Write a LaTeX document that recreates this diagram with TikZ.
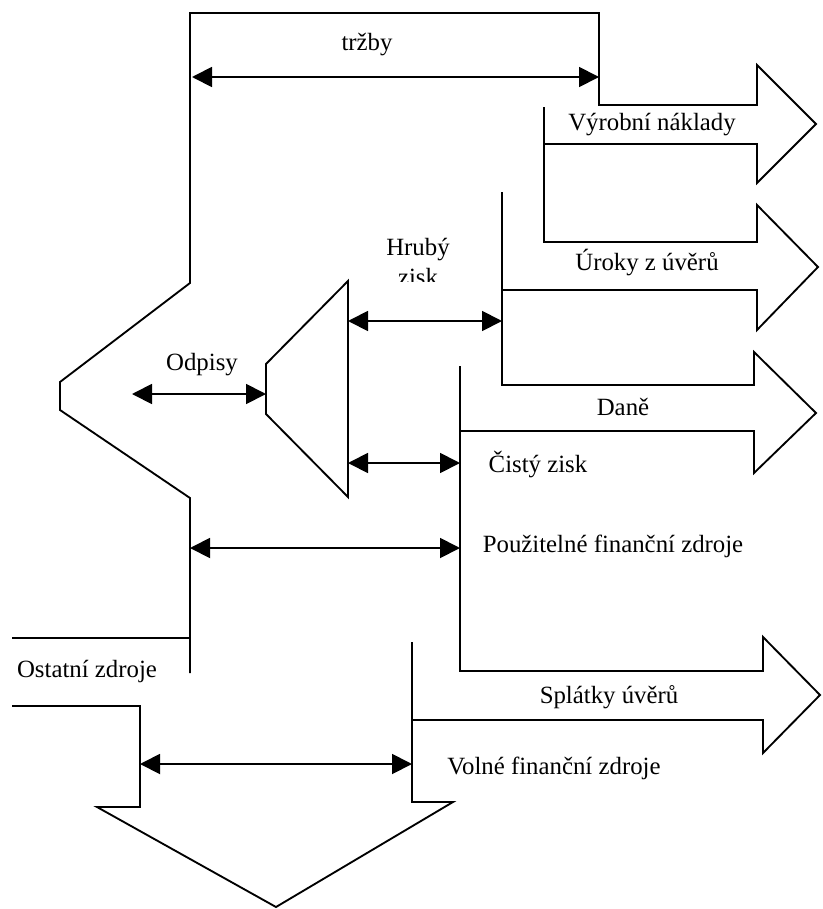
\documentclass[tikz,border=0pt]{standalone}
\usepackage{fontspec}
\setmainfont{Liberation Serif}
\usepackage{tikz}
\usetikzlibrary{arrows.meta}
\tikzset{
  flow/.style  = {line width=0.9pt, line join=miter},
  span/.style  = {line width=0.9pt,
                  {Triangle[length=3.4mm,width=3.4mm]}-{Triangle[length=3.4mm,width=3.4mm]}},
  lab/.style   = {font=\fontsize{12}{14}\selectfont, inner sep=0pt},
}

\begin{document}
\begin{tikzpicture}[x=0.17mm, y=-0.17mm]
  \useasboundingbox (0,0) rectangle (822,909);

  % outer body: revenue block with the depreciation notch
  \draw[flow] (190,673) -- (190,498) -- (60,410) -- (60,382) -- (190,283)
    -- (190,13) -- (599,13) -- (599,105) -- (757,105) -- (757,65)
    -- (816,124) -- (757,183) -- (757,144) -- (544,144);
  \draw[flow] (544,107) -- (544,242) -- (757,242) -- (757,205)
    -- (818,267) -- (757,330) -- (757,290) -- (502,290);
  \draw[flow] (502,192) -- (502,385) -- (754,385) -- (754,352)
    -- (816,413) -- (754,473) -- (754,431) -- (460,431);
  \draw[flow] (460,366) -- (460,671) -- (763,671) -- (763,637)
    -- (820,695) -- (763,753) -- (763,720) -- (412,720);
  \draw[flow] (412,642) -- (412,802) -- (453,802) -- (276,907)
    -- (97,807) -- (140,807) -- (140,706) -- (12,706);
  \draw[flow] (12,638) -- (190,638);

  % depreciation trapezoid
  \draw[flow] (348,281) -- (266,364) -- (266,414) -- (348,497) -- cycle;

  % end points of the spans
  \coordinate (trzA) at (192,77);  \coordinate (trzB) at (599,77);
  \coordinate (hrA)  at (348,321); \coordinate (hrB)  at (502,321);
  \coordinate (odA)  at (132,394); \coordinate (odB)  at (266,394);
  \coordinate (ciA)  at (348,463); \coordinate (ciB)  at (460,463);
  \coordinate (poA)  at (190,548); \coordinate (poB)  at (460,548);
  \coordinate (voA)  at (140,764); \coordinate (voB)  at (412,764);

  \draw[span] (trzA) -- (trzB);
  \draw[span] (hrA) -- (hrB);
  \draw[span] (odA) -- (odB);
  \draw[span] (ciA) -- (ciB);
  \draw[span] (poA) -- (poB);
  \draw[span] (voA) -- (voB);

  % labels
  \node[lab] (trzby)   at (367,45)  {tržby};
  \node[lab] (vyrob)   at (652,125) {Výrobní náklady};
  \node[lab] (hruby)   at (418,250) {Hrubý};
  \begin{scope}
    \clip (370,230) rectangle (470,281);
    \node[lab] (hrubyz) at (418,277) {zisk};
  \end{scope}
  \node[lab] (uroky)   at (647,263) {Úroky z úvěrů};
  \node[lab] (odpisy)  at (202,365) {Odpisy};
  \node[lab] (dane)    at (623,407) {Daně};
  \node[lab] (cisty)   at (538,465) {Čistý zisk};
  \node[lab] (pouzit)  at (613,546) {Použitelné finanční zdroje};
  \node[lab] (ostatni) at (87,672)  {Ostatní zdroje};
  \node[lab] (splatky) at (609,697) {Splátky úvěrů};
  \node[lab] (volne)   at (554,768) {Volné finanční zdroje};
\end{tikzpicture}
\end{document}
